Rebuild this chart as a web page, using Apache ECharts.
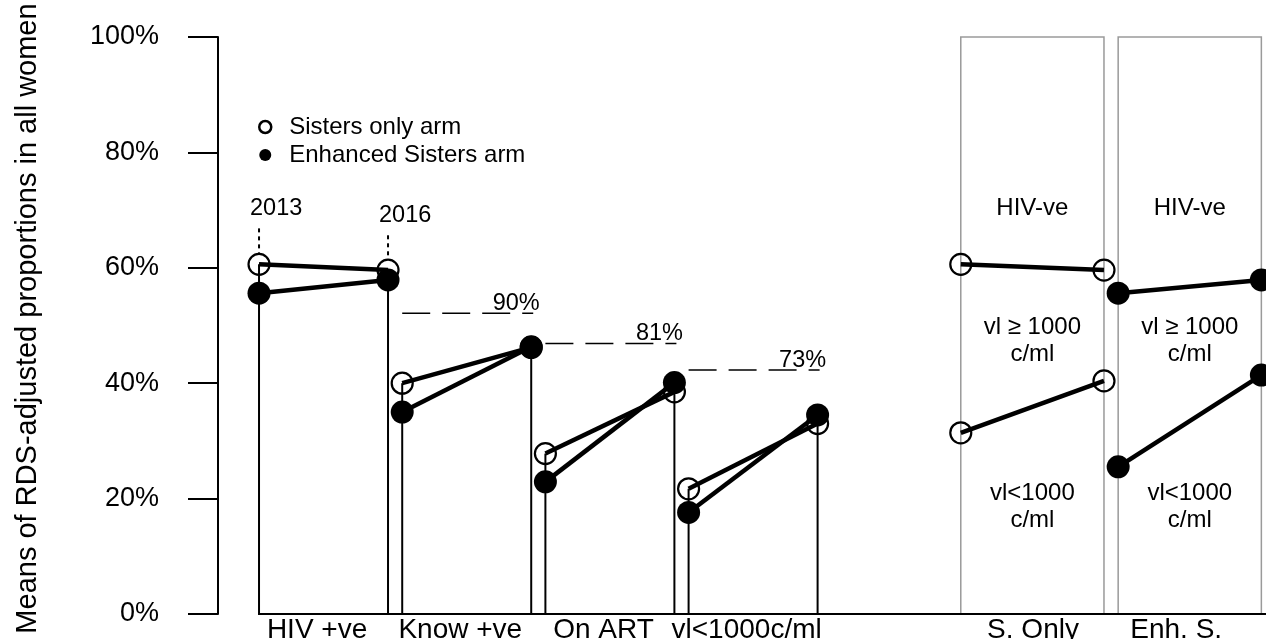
<!DOCTYPE html>
<html>
<head>
<meta charset="utf-8">
<script src="https://cdn.jsdelivr.net/npm/echarts@6/dist/echarts.min.js"></script>
<style>
  html, body { margin: 0; padding: 0; background: #fff; }
  #chart { width: 1266px; height: 639px; }
</style>
</head>
<body>
<div id="chart"></div>
<script>
// ---- data ----
const armNames = ['Sisters only arm', 'Enhanced Sisters arm'];
const stages = ['HIV +ve', 'Know +ve', 'On ART', 'vl<1000c/ml'];
const stageX2013 = [0, 1.11, 2.22, 3.33];
const stageX2016 = [1, 2.11, 3.22, 4.33];
const sisters2013 = [60.6, 40.0, 27.8, 21.7];
const sisters2016 = [59.6, 46.2, 38.5, 33.0];
const enhanced2013 = [55.6, 35.0, 22.9, 17.6];
const enhanced2016 = [57.9, 46.3, 40.1, 34.5];

const years = ['2013', '2016'];
const yearLabelLevels = [70.3, 69.1];

// cascade targets, as a share of HIV+ve women in the Enhanced arm in 2016
const cascadePct = [90, 81, 73];
const cascadeLabels = ['90%', '81%', '73%'];

const panels = ['S. Only', 'Enh. S.'];
const panelX2013 = [5.44, 6.66];
const panelX2016 = [6.55, 7.77];
const panelUpper2013 = [60.6, 55.6];
const panelUpper2016 = [59.6, 57.9];
const panelLower2013 = [31.4, 25.5];
const panelLower2016 = [40.4, 41.4];
const zoneLabels = ['HIV-ve', 'vl \u2265 1000\nc/ml', 'vl<1000\nc/ml'];
const zoneLevels = [70.3, 47.4, 18.6];

const categoryLabels = stages.concat(panels);
const categoryX = [0.45, 1.56, 2.67, 3.78, 6.0, 7.11];

const yTickStep = 20;

// ---- styling ----
const FONT = '"Liberation Sans", Arial, Helvetica, sans-serif';
const INK = '#000';
const X_MIN = -0.318, X_MAX = 7.806;

const openSymbol = { color: 'rgba(0,0,0,0)', borderColor: INK, borderWidth: 2.2 };
const filledSymbol = { color: INK, borderWidth: 0 };

function armSeries(name, points, filled) {
  return {
    type: 'line',
    name: name,
    data: points,
    symbol: 'circle',
    symbolSize: filled ? 23 : 21,
    showAllSymbol: true,
    lineStyle: { color: INK, width: 4.5 },
    itemStyle: filled ? filledSymbol : openSymbol,
    emphasis: { disabled: true },
    silent: true,
    clip: false,
    z: filled ? 6 : 5
  };
}

const series = [];

// grey panel frames with their zone captions
series.push({
  type: 'custom',
  silent: true,
  z: 1,
  data: panels.map((p, i) => [panelX2013[i], panelX2016[i]]),
  renderItem: function (params, api) {
    const a = api.coord([api.value(0), 100]);
    const b = api.coord([api.value(1), 0]);
    const cx = (a[0] + b[0]) / 2;
    const children = [{
      type: 'rect',
      shape: { x: a[0], y: a[1], width: b[0] - a[0], height: b[1] - a[1] },
      style: { fill: 'none', stroke: '#9a9a9a', lineWidth: 1.5 }
    }];
    zoneLabels.forEach((t, j) => {
      const p = api.coord([0, zoneLevels[j]]);
      children.push({
        type: 'text',
        x: cx, y: p[1],
        style: {
          text: t, fill: INK, font: '24px ' + FONT,
          align: 'center', verticalAlign: 'middle', lineHeight: 27
        }
      });
    });
    return { type: 'group', children: children };
  }
});

// baseline under the marks
series.push({
  type: 'custom',
  silent: true,
  z: 2,
  data: [[0, X_MAX]],
  renderItem: function (params, api) {
    const a = api.coord([api.value(0), 0]);
    const b = api.coord([api.value(1), 0]);
    return {
      type: 'line',
      shape: { x1: a[0] - 1, y1: a[1], x2: b[0], y2: b[1] },
      style: { stroke: INK, lineWidth: 2 }
    };
  }
});

// stems from the higher of the two arms down to the baseline
const stemData = [];
stages.forEach((s, k) => {
  stemData.push([stageX2013[k], Math.max(sisters2013[k], enhanced2013[k])]);
  stemData.push([stageX2016[k], Math.max(sisters2016[k], enhanced2016[k])]);
});
series.push({
  type: 'custom',
  silent: true,
  z: 3,
  data: stemData,
  renderItem: function (params, api) {
    const top = api.coord([api.value(0), api.value(1)]);
    const bot = api.coord([api.value(0), 0]);
    return {
      type: 'line',
      shape: { x1: top[0], y1: top[1], x2: bot[0], y2: bot[1] },
      style: { stroke: INK, lineWidth: 2 }
    };
  }
});

// survey-year markers above the first stage
series.push({
  type: 'custom',
  silent: true,
  z: 3,
  data: years.map((y, i) => [i === 0 ? stageX2013[0] : stageX2016[0],
                             i === 0 ? sisters2013[0] : sisters2016[0],
                             yearLabelLevels[i]]),
  renderItem: function (params, api) {
    const pt = api.coord([api.value(0), api.value(1)]);
    const lab = api.coord([api.value(0), api.value(2)]);
    return {
      type: 'group',
      children: [{
        type: 'line',
        shape: { x1: pt[0], y1: lab[1] + 20, x2: pt[0], y2: pt[1] - 11 },
        style: { stroke: INK, lineWidth: 2, lineDash: [4, 4] }
      }, {
        type: 'text',
        x: pt[0] - 9, y: lab[1],
        style: {
          text: years[params.dataIndex], fill: INK, font: '23.5px ' + FONT,
          align: 'left', verticalAlign: 'middle'
        }
      }]
    };
  }
});

// dashed cascade targets over the later stages
series.push({
  type: 'custom',
  silent: true,
  z: 3,
  data: cascadePct.map((p, i) => [stageX2013[i + 1], stageX2016[i + 1], p / 100 * enhanced2016[0]]),
  renderItem: function (params, api) {
    const a = api.coord([api.value(0), api.value(2)]);
    const b = api.coord([api.value(1), api.value(2)]);
    return {
      type: 'group',
      children: [{
        type: 'line',
        shape: { x1: a[0], y1: a[1], x2: b[0] + 2, y2: b[1] },
        style: { stroke: INK, lineWidth: 1.5, lineDash: [28, 12] }
      }, {
        type: 'text',
        x: b[0] - 15, y: b[1] + 2,
        style: {
          text: cascadeLabels[params.dataIndex], fill: INK, font: '23.5px ' + FONT,
          align: 'center', verticalAlign: 'bottom'
        }
      }]
    };
  }
});

// category captions under the baseline
series.push({
  type: 'custom',
  silent: true,
  z: 3,
  data: categoryX.map((x) => [x, 0]),
  renderItem: function (params, api) {
    const p = api.coord([api.value(0), 0]);
    return {
      type: 'text',
      x: p[0], y: p[1] + 2,
      style: {
        text: categoryLabels[params.dataIndex], fill: INK, font: '28px ' + FONT,
        align: 'center', verticalAlign: 'top'
      }
    };
  }
});

// arm trajectories, 2013 -> 2016, per stage
stages.forEach((s, k) => {
  series.push(armSeries(armNames[0], [[stageX2013[k], sisters2013[k]], [stageX2016[k], sisters2016[k]]], false));
});
stages.forEach((s, k) => {
  series.push(armSeries(armNames[1], [[stageX2013[k], enhanced2013[k]], [stageX2016[k], enhanced2016[k]]], true));
});
// arm-specific panels
series.push(armSeries(armNames[0], [[panelX2013[0], panelUpper2013[0]], [panelX2016[0], panelUpper2016[0]]], false));
series.push(armSeries(armNames[0], [[panelX2013[0], panelLower2013[0]], [panelX2016[0], panelLower2016[0]]], false));
series.push(armSeries(armNames[1], [[panelX2013[1], panelUpper2013[1]], [panelX2016[1], panelUpper2016[1]]], true));
series.push(armSeries(armNames[1], [[panelX2013[1], panelLower2013[1]], [panelX2016[1], panelLower2016[1]]], true));

const option = {
  animation: false,
  backgroundColor: '#fff',
  grid: { left: 218, right: 0, top: 37, bottom: 25, containLabel: false },
  legend: {
    left: 253,
    top: 110,
    orient: 'vertical',
    itemGap: 4,
    itemWidth: 24,
    itemHeight: 12,
    selectedMode: false,
    textStyle: { fontSize: 24, fontFamily: FONT, color: INK, padding: [0, 0, 0, 7] },
    data: [
      { name: armNames[0], icon: 'circle', itemStyle: { color: '#fff', borderColor: INK, borderWidth: 2.5 } },
      { name: armNames[1], icon: 'circle', itemStyle: { color: INK, borderWidth: 0 } }
    ]
  },
  xAxis: { type: 'value', min: X_MIN, max: X_MAX, show: false },
  yAxis: {
    type: 'value',
    min: 0,
    max: 100,
    interval: yTickStep,
    name: 'Means of RDS-adjusted proportions in all women',
    nameLocation: 'middle',
    nameRotate: 90,
    nameGap: 176,
    nameTextStyle: { fontSize: 29, fontFamily: FONT, color: INK, padding: [0, 0, 0, 14] },
    axisLine: { show: true, onZero: false, lineStyle: { color: INK, width: 2 } },
    axisTick: { show: true, length: 30, lineStyle: { color: INK, width: 2 } },
    axisLabel: { formatter: '{value}%', fontSize: 27, fontFamily: FONT, color: INK, margin: 59 },
    splitLine: { show: false }
  },
  series: series
};

const chart = echarts.init(document.getElementById('chart'), null, { renderer: 'canvas' });
chart.setOption(option);
</script>
</body>
</html>
